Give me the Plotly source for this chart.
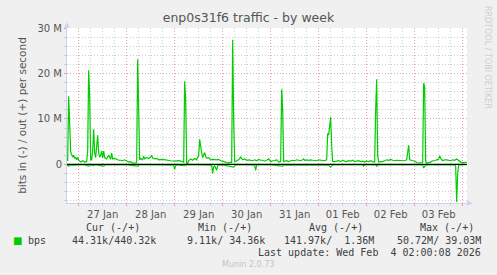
import plotly.graph_objects as go

# ---------------- data (Mbit/s) ----------------
out_times = [
    "2026-01-26 18:00", "2026-01-26 18:30", "2026-01-26 19:00", "2026-01-26 19:30", "2026-01-26 20:00",
    "2026-01-26 20:30", "2026-01-26 21:00", "2026-01-26 21:30", "2026-01-26 22:00", "2026-01-26 22:30",
    "2026-01-26 23:00", "2026-01-26 23:30",
    "2026-01-27 00:00", "2026-01-27 01:00", "2026-01-27 02:00", "2026-01-27 03:00", "2026-01-27 04:00",
    "2026-01-27 04:30", "2026-01-27 05:00", "2026-01-27 05:30", "2026-01-27 06:00", "2026-01-27 06:30",
    "2026-01-27 07:00", "2026-01-27 07:30", "2026-01-27 08:00", "2026-01-27 08:30", "2026-01-27 09:00",
    "2026-01-27 09:30", "2026-01-27 10:00", "2026-01-27 10:30", "2026-01-27 11:00", "2026-01-27 11:30",
    "2026-01-27 12:00", "2026-01-27 12:30", "2026-01-27 13:00", "2026-01-27 14:00", "2026-01-27 15:00",
    "2026-01-27 16:00", "2026-01-27 16:30", "2026-01-27 17:00", "2026-01-27 18:00", "2026-01-27 19:00",
    "2026-01-27 20:00", "2026-01-27 21:00", "2026-01-27 22:00", "2026-01-27 23:00",
    "2026-01-28 00:00", "2026-01-28 01:00", "2026-01-28 02:00", "2026-01-28 03:00", "2026-01-28 04:00",
    "2026-01-28 05:00", "2026-01-28 05:30", "2026-01-28 06:00", "2026-01-28 06:30", "2026-01-28 07:00",
    "2026-01-28 08:00", "2026-01-28 08:30", "2026-01-28 09:00", "2026-01-28 10:00", "2026-01-28 11:00",
    "2026-01-28 12:00", "2026-01-28 12:30", "2026-01-28 13:00", "2026-01-28 14:00", "2026-01-28 15:00",
    "2026-01-28 16:00", "2026-01-28 18:00", "2026-01-28 20:00", "2026-01-28 22:00",
    "2026-01-29 00:00", "2026-01-29 02:00", "2026-01-29 04:00", "2026-01-29 04:30", "2026-01-29 05:00",
    "2026-01-29 05:30", "2026-01-29 06:00", "2026-01-29 06:30", "2026-01-29 07:00", "2026-01-29 08:00",
    "2026-01-29 09:00", "2026-01-29 10:00", "2026-01-29 11:00", "2026-01-29 12:00", "2026-01-29 12:30",
    "2026-01-29 13:00", "2026-01-29 13:30", "2026-01-29 14:00", "2026-01-29 14:30", "2026-01-29 15:00",
    "2026-01-29 15:30", "2026-01-29 16:00", "2026-01-29 17:00", "2026-01-29 18:00", "2026-01-29 19:00",
    "2026-01-29 20:00", "2026-01-29 21:00", "2026-01-29 22:00", "2026-01-29 23:00",
    "2026-01-30 00:00", "2026-01-30 01:00", "2026-01-30 02:00", "2026-01-30 03:00", "2026-01-30 04:00",
    "2026-01-30 04:30", "2026-01-30 05:00", "2026-01-30 05:30", "2026-01-30 06:00", "2026-01-30 07:00",
    "2026-01-30 08:00", "2026-01-30 09:00", "2026-01-30 10:00", "2026-01-30 11:00", "2026-01-30 12:00",
    "2026-01-30 13:00", "2026-01-30 14:00", "2026-01-30 15:00", "2026-01-30 16:00", "2026-01-30 17:00",
    "2026-01-30 18:00", "2026-01-30 19:00", "2026-01-30 20:00", "2026-01-30 21:00", "2026-01-30 22:00",
    "2026-01-30 23:00",
    "2026-01-31 00:00", "2026-01-31 01:00", "2026-01-31 02:00", "2026-01-31 03:00", "2026-01-31 04:00",
    "2026-01-31 05:00", "2026-01-31 05:30", "2026-01-31 06:00", "2026-01-31 06:30", "2026-01-31 07:00",
    "2026-01-31 08:00", "2026-01-31 09:00", "2026-01-31 10:00", "2026-01-31 11:00", "2026-01-31 12:00",
    "2026-01-31 13:00", "2026-01-31 14:00", "2026-01-31 15:00", "2026-01-31 16:00", "2026-01-31 16:30",
    "2026-01-31 17:00", "2026-01-31 18:00", "2026-01-31 19:00", "2026-01-31 20:00", "2026-01-31 21:00",
    "2026-01-31 22:00", "2026-01-31 23:00",
    "2026-02-01 00:00", "2026-02-01 01:00", "2026-02-01 02:00", "2026-02-01 03:00", "2026-02-01 04:00",
    "2026-02-01 04:30", "2026-02-01 05:00", "2026-02-01 05:30", "2026-02-01 06:00", "2026-02-01 06:30",
    "2026-02-01 07:00", "2026-02-01 08:00", "2026-02-01 09:00", "2026-02-01 10:00", "2026-02-01 11:00",
    "2026-02-01 12:00", "2026-02-01 13:00", "2026-02-01 14:00", "2026-02-01 15:00", "2026-02-01 16:00",
    "2026-02-01 17:00", "2026-02-01 18:00", "2026-02-01 19:00", "2026-02-01 20:00", "2026-02-01 21:00",
    "2026-02-01 22:00", "2026-02-01 23:00",
    "2026-02-02 00:00", "2026-02-02 01:00", "2026-02-02 02:00", "2026-02-02 03:00", "2026-02-02 04:00",
    "2026-02-02 04:30", "2026-02-02 05:00", "2026-02-02 05:30", "2026-02-02 06:00", "2026-02-02 07:00",
    "2026-02-02 08:00", "2026-02-02 09:00", "2026-02-02 10:00", "2026-02-02 11:00", "2026-02-02 12:00",
    "2026-02-02 13:00", "2026-02-02 14:00", "2026-02-02 15:00", "2026-02-02 16:00", "2026-02-02 17:00",
    "2026-02-02 18:00", "2026-02-02 19:00", "2026-02-02 20:00", "2026-02-02 20:30", "2026-02-02 21:00",
    "2026-02-02 21:30", "2026-02-02 22:00", "2026-02-02 23:00",
    "2026-02-03 00:00", "2026-02-03 01:00", "2026-02-03 02:00", "2026-02-03 03:00", "2026-02-03 04:00",
    "2026-02-03 04:30", "2026-02-03 05:00", "2026-02-03 05:30", "2026-02-03 06:00", "2026-02-03 07:00",
    "2026-02-03 08:00", "2026-02-03 09:00", "2026-02-03 10:00", "2026-02-03 11:00", "2026-02-03 12:00",
    "2026-02-03 12:30", "2026-02-03 13:00", "2026-02-03 14:00", "2026-02-03 15:00", "2026-02-03 16:00",
    "2026-02-03 17:00", "2026-02-03 18:00", "2026-02-03 19:00", "2026-02-03 20:00", "2026-02-03 21:00",
    "2026-02-03 22:00", "2026-02-03 23:00",
    "2026-02-04 00:00", "2026-02-04 01:00", "2026-02-04 02:00",
]
out_mbps = [
    1.0, 0.9, 15.0, 6.0, 2.7, 2.2, 1.6, 2.0, 1.3, 1.6, 1.0, 1.5,
    0.9, 0.5, 0.8, 0.5, 0.6, 3.0, 20.7, 15.0, 1.0, 1.0, 3.0, 7.7, 2.5, 1.5, 3.5, 6.4, 2.5, 1.6,
    2.0, 2.9, 1.4, 2.9, 1.5, 1.2, 2.0, 1.1, 2.5, 1.2, 1.3, 1.1, 0.9, 0.9, 0.8, 1.0,
    0.7, 0.5, 0.6, 0.3, 0.3, 0.4, 23.1, 8.0, 1.0, 1.3, 1.0, 1.8, 1.2, 1.5, 1.3, 1.6, 2.0, 1.4,
    1.2, 1.3, 1.0, 1.1, 0.9, 0.8,
    0.7, 0.8, 0.6, 0.5, 18.3, 14.0, 0.3, 0.2, 0.8, 1.2, 0.9, 1.3, 1.0, 2.0, 5.5, 3.5, 2.5, 1.5,
    2.0, 2.6, 1.7, 1.4, 1.5, 1.0, 1.1, 1.0, 1.0, 1.1, 0.8,
    0.7, 0.5, 0.4, 0.3, 0.5, 0.4, 27.4, 10.0, 0.5, 0.8, 1.0, 1.6, 1.0, 1.2, 0.9, 1.0, 0.9, 0.8,
    1.0, 0.8, 1.1, 0.9, 0.9, 0.7, 0.9, 1.2,
    0.6, 0.8, 0.8, 1.0, 0.5, 0.6, 16.5, 12.0, 0.5, 0.7, 0.8, 0.6, 0.8, 0.9, 0.8, 1.0, 0.9, 0.8,
    1.0, 1.2, 0.9, 1.0, 0.9, 1.0, 0.9, 0.9, 0.8,
    1.0, 0.9, 0.9, 0.8, 1.0, 6.8, 6.5, 9.0, 10.4, 4.0, 0.6, 0.6, 0.7, 0.8, 0.6, 0.9, 0.7, 0.6,
    0.8, 0.7, 0.9, 0.6, 0.7, 0.8, 0.6, 0.7, 0.5,
    0.7, 0.6, 0.8, 0.6, 0.5, 12.0, 18.7, 2.0, 0.5, 0.6, 0.6, 0.8, 1.0, 0.9, 1.1, 0.9, 0.8, 0.9,
    0.9, 0.8, 0.9, 0.8, 1.0, 3.0, 4.2, 1.0, 0.9, 0.8,
    0.7, 0.4, 0.3, 0.3, 0.4, 17.9, 17.0, 0.5, 0.3, 0.4, 0.5, 0.8, 0.8, 1.0, 1.1, 1.9, 1.3, 0.8,
    1.0, 1.0, 0.9, 0.8, 1.0, 0.9, 1.2, 0.8, 0.5,
    0.4, 0.5, 0.44,
]

in_times = [
    "2026-01-26 18:00", "2026-01-26 19:00", "2026-01-26 20:00", "2026-01-26 22:00",
    "2026-01-27 00:00", "2026-01-27 03:00", "2026-01-27 05:00", "2026-01-27 06:00", "2026-01-27 07:30",
    "2026-01-27 08:30", "2026-01-27 12:30", "2026-01-27 13:30", "2026-01-27 18:00",
    "2026-01-28 00:00", "2026-01-28 05:30", "2026-01-28 06:30", "2026-01-28 12:00", "2026-01-28 18:00",
    "2026-01-28 23:30",
    "2026-01-29 00:00", "2026-01-29 00:30", "2026-01-29 05:00", "2026-01-29 06:00", "2026-01-29 12:00",
    "2026-01-29 18:30", "2026-01-29 19:00", "2026-01-29 19:30", "2026-01-29 20:00", "2026-01-29 21:00",
    "2026-01-29 21:30",
    "2026-01-30 00:00", "2026-01-30 05:30", "2026-01-30 06:30", "2026-01-30 12:00", "2026-01-30 16:00",
    "2026-01-30 16:30", "2026-01-30 17:00",
    "2026-01-31 00:00", "2026-01-31 05:30", "2026-01-31 06:00", "2026-01-31 06:30", "2026-01-31 12:00",
    "2026-01-31 18:00",
    "2026-02-01 00:00", "2026-02-01 05:00", "2026-02-01 06:00", "2026-02-01 07:00", "2026-02-01 12:00",
    "2026-02-01 22:00", "2026-02-01 22:30", "2026-02-01 23:00",
    "2026-02-02 04:30", "2026-02-02 05:00", "2026-02-02 05:30", "2026-02-02 12:00", "2026-02-02 18:00",
    "2026-02-03 04:00", "2026-02-03 04:30", "2026-02-03 05:00", "2026-02-03 05:30", "2026-02-03 12:00",
    "2026-02-03 20:00", "2026-02-03 20:30", "2026-02-03 21:00", "2026-02-03 21:30", "2026-02-03 22:00",
    "2026-02-04 02:00",
]
in_mbps = [
    -0.1, -0.4, -0.1, -0.2,
    -0.1, -0.1, -0.4, -0.1, -0.3, -0.1, -0.4, -0.1, -0.1,
    -0.1, -0.4, -0.1, -0.1, -0.1, -0.2,
    -1.1, -0.1, -0.3, -0.1, -0.1, -0.2, -2.0, -0.5, -0.3, -1.3, -0.2,
    -0.1, -0.6, -0.1, -0.1, -0.2, -1.3, -0.1,
    -0.1, -0.3, -0.4, -0.1, -0.1, -0.1,
    -0.1, -0.2, -0.6, -0.1, -0.1, -0.1, -0.4, -0.1,
    -0.1, -0.4, -0.1, -0.1, -0.1,
    -0.1, -0.8, -0.5, -0.1, -0.1, -0.1, -0.5, -8.3, -2.0, -0.1,
    -0.04,
]

x_range = ["2026-01-26 18:10", "2026-02-04 02:10"]
y_tickvals = [0, 10, 20, 30]
y_ticktext = ["0", "10 M", "20 M", "30 M"]

legend_cols = ["Cur (-/+)", "Min (-/+)", "Avg (-/+)", "Max (-/+)"]
legend_vals = [" 44.31k/440.32k", "  9.11k/ 34.36k", "141.97k/  1.36M", " 50.72M/ 39.03M"]
series_name = "bps"
last_update = "Last update: Wed Feb  4 02:00:08 2026"

# ---------------- styling ----------------
W, H = 497, 275
L, R, T, B = 67, 467, 28, 203
GREEN = "#00CC00"
TXT = "#555555"
MONO = "DejaVu Sans Mono"
SANS = "DejaVu Sans"
GRID_MINOR = "#CFCFCF"
GRID_MAJOR = "#EBA0A0"
AXIS = "#C8D2F2"


def px(x):
    return (x - L) / (R - L)


def py(y):
    return (B - y) / (B - T)


fig = go.Figure()
fig.add_trace(go.Scatter(x=in_times, y=in_mbps, mode="lines",
                         line=dict(color=GREEN, width=1.2), hoverinfo="skip"))
fig.add_trace(go.Scatter(x=out_times, y=out_mbps, mode="lines",
                         line=dict(color=GREEN, width=1.2), hoverinfo="skip"))
fig.add_trace(go.Scatter(x=x_range, y=[0, 0], mode="lines",
                         line=dict(color="#000000", width=1.2), hoverinfo="skip"))

ann = []
header_right = [142, 254, 365, 476]
for txt, xr in zip(legend_cols, header_right):
    ann.append(dict(x=px(xr), y=py(227), text=txt.replace(" ", "&nbsp;"),
                    xanchor="right", yanchor="middle"))
vals_right = [157.5, 267, 375.5, 483]
for txt, xr in zip(legend_vals, vals_right):
    ann.append(dict(x=px(xr), y=py(240), text=txt.replace(" ", "&nbsp;"),
                    xanchor="right", yanchor="middle"))
ann.append(dict(x=px(26), y=py(240), text=series_name, xanchor="left", yanchor="middle"))
ann.append(dict(x=px(483), y=py(252), text=last_update.replace(" ", "&nbsp;"),
                xanchor="right", yanchor="middle"))
for a in ann:
    a.update(xref="paper", yref="paper", showarrow=False,
             font=dict(family=MONO, size=10, color="#404040"))

ann.append(dict(x=px(17), y=py(240), xref="paper", yref="paper", showarrow=False,
                text="■", font=dict(family=SANS, size=10, color=GREEN),
                xanchor="center", yanchor="middle"))
ann.append(dict(x=px(248), y=py(264), xref="paper", yref="paper", showarrow=False,
                text="Munin 2.0.73", font=dict(family=SANS, size=8, color="#C4C4C4"),
                xanchor="center", yanchor="middle"))
ann.append(dict(x=px(488), y=py(57), xref="paper", yref="paper", showarrow=False,
                text="RRDTOOL / TOBI OETIKER", textangle=90,
                font=dict(family=SANS, size=8, color="#CFCFCF"),
                xanchor="center", yanchor="middle"))
ann.append(dict(x=px(67), y=py(25), xref="paper", yref="paper", showarrow=False,
                text="▲", font=dict(family=SANS, size=7, color=AXIS),
                xanchor="center", yanchor="middle"))
ann.append(dict(x=px(470), y=py(203), xref="paper", yref="paper", showarrow=False,
                text="▶", font=dict(family=SANS, size=7, color=AXIS),
                xanchor="center", yanchor="middle"))

fig.update_layout(
    width=W, height=H,
    margin=dict(l=L, r=W - R, t=T, b=H - B, pad=0),
    paper_bgcolor="#F0F0F0", plot_bgcolor="#FFFFFF",
    showlegend=False,
    title=dict(text="enp0s31f6 traffic - by week", x=0.5, xref="container",
               y=1 - 18 / H, yref="container", xanchor="center", yanchor="middle",
               font=dict(family=SANS, size=12.5, color=TXT)),
    annotations=ann,
    xaxis=dict(
        type="date", range=x_range, fixedrange=True,
        tick0="2026-01-27 00:00", dtick=86400000, ticklabelmode="period",
        tickformat="%d %b",
        showgrid=True, gridcolor=GRID_MAJOR, griddash="1px,2px", gridwidth=1,
        ticks="outside", ticklen=2, tickcolor=GRID_MAJOR,
        minor=dict(tick0="2026-01-27 00:00", dtick=6 * 3600000, showgrid=True,
                   gridcolor=GRID_MINOR, griddash="1px,2px", gridwidth=1,
                   ticks="outside", ticklen=2, tickcolor=GRID_MINOR),
        showline=True, linecolor=AXIS, linewidth=1,
        zeroline=False,
        tickfont=dict(family=SANS, size=10, color=TXT),
    ),
    yaxis=dict(
        range=[-8.5, 30], fixedrange=True,
        tickmode="array", tickvals=y_tickvals, ticktext=y_ticktext,
        showgrid=True, gridcolor=GRID_MAJOR, griddash="1px,2px", gridwidth=1,
        ticks="outside", ticklen=2, tickcolor=GRID_MAJOR,
        minor=dict(tickmode="linear", tick0=0, dtick=2, showgrid=True,
                   gridcolor=GRID_MINOR, griddash="1px,2px", gridwidth=1,
                   ticks="outside", ticklen=2, tickcolor=GRID_MINOR),
        showline=True, linecolor=AXIS, linewidth=1,
        zeroline=False,
        tickfont=dict(family=SANS, size=10, color=TXT),
        title=dict(text="bits in (-) / out (+) per second", standoff=8,
                   font=dict(family=SANS, size=10.5, color=TXT)),
    ),
)

fig.write_html("out.html", config={"displayModeBar": False})
